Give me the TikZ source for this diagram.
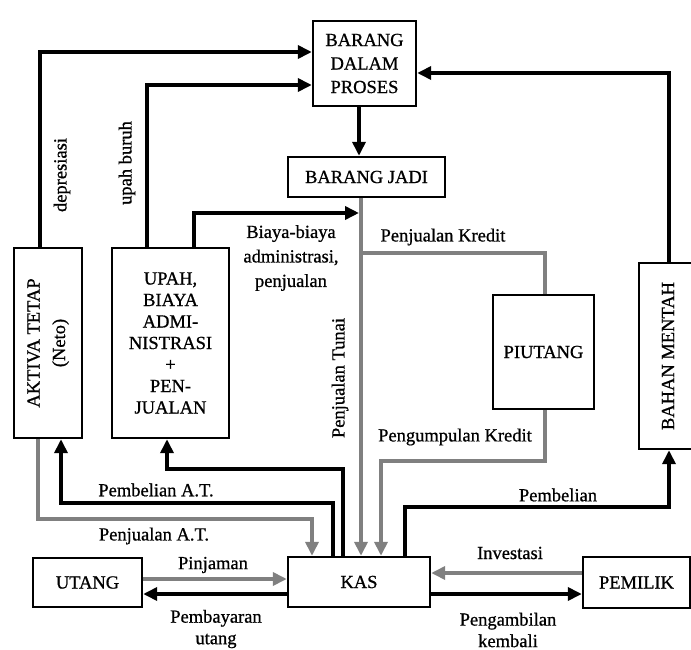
\documentclass[tikz,border=0pt]{standalone}
\usepackage{fontspec}
\setmainfont[FakeBold=0.8]{Liberation Serif}
\usepackage{graphicx}
\usetikzlibrary{arrows.meta}
\definecolor{lgr}{gray}{0.5}
\newcommand\dfont{\fontsize{18.5}{21.5}\selectfont}
\newcommand\bfontb{\fontsize{18.5}{23.5}\selectfont}
\begin{document}
\begin{tikzpicture}[x=1pt,y=-1pt,
  box/.style={draw, line width=2.4pt, inner sep=0pt, align=center, font=\dfont},
  lbl/.style={inner sep=0pt, align=center, font=\dfont},
  blk/.style={line width=3.8pt, draw=black},
  gry/.style={line width=3.8pt, draw=lgr},
  tip/.style={-{Triangle[length=14pt,width=13pt]}}]
\useasboundingbox (0,0) rectangle (691,650);
\fill[white] (0,0) rectangle (691,650);

% boxes
\node[box, font=\bfontb, minimum width=103pt, minimum height=85pt] (bdp) at (364.5,63.5) {BARANG\\DALAM\\PROSES};
\node[box, minimum width=157pt, minimum height=40pt] (bj) at (366.5,177) {BARANG JADI};
\node[box, minimum width=68pt, minimum height=190pt] (at) at (48,343)
  {\rotatebox{90}{\begin{tabular}{@{}c@{}}AKTIVA TETAP\\[4pt](Neto)\end{tabular}}};
\node[box, minimum width=117pt, minimum height=190pt] (upah) at (170.5,343)
  {UPAH,\\BIAYA\\ADMI-\\NISTRASI\\+\\PEN-\\JUALAN};
\node[box, minimum width=101pt, minimum height=114pt] (piu) at (543.5,352) {PIUTANG};
\node[box, minimum width=58pt, minimum height=186pt] (bm) at (668,356) {\rotatebox{90}{BAHAN MENTAH}};
\node[box, minimum width=142pt, minimum height=50pt] (kas) at (359,582) {KAS};
\node[box, minimum width=109pt, minimum height=49pt] (utang) at (87.5,582.5) {UTANG};
\node[box, minimum width=107pt, minimum height=51pt] (pem) at (636.5,582.5) {PEMILIK};

% bend points
\coordinate (dep) at (40,52);
\coordinate (ub) at (147,85);
\coordinate (by) at (194,213);
\coordinate (pt) at (361,213);
\coordinate (bx) at (359,0);
\coordinate (bmc) at (669,73);
\coordinate (pk) at (545,253);
\coordinate (pg1) at (545,461);
\coordinate (pg2) at (381,461);
\coordinate (pb1) at (405,507);
\coordinate (pb2) at (669,507);
\coordinate (pu1) at (343,469);
\coordinate (pu2) at (167,469);
\coordinate (pa1) at (333,503);
\coordinate (pa2) at (61,503);
\coordinate (ja1) at (38,519);
\coordinate (ja2) at (312,519);
\coordinate (pj) at (0,579);
\coordinate (pbu) at (0,594);
\coordinate (inv) at (0,573);

% connectors
\draw[blk,tip] (at.north -| dep) -- (dep) -- (bdp.west |- dep);
\draw[blk,tip] (upah.north -| ub) -- (ub) -- (bdp.west |- ub);
\draw[blk,tip] (upah.north -| by) -- (by) -- ([xshift=-2pt]pt);
\draw[blk,tip] (bdp.south -| bx) -- (bj.north -| bx);
\draw[blk,tip] (bm.north -| bmc) -- (bmc) -- (bdp.east |- bmc);
\draw[gry,tip] (bj.south -| pt) -- (kas.north -| pt);
\draw[gry] (pt |- pk) -- (pk) -- (piu.north -| pk);
\draw[gry,tip] (piu.south -| pk) -- (pg1) -- (pg2) -- (kas.north -| pg2);
\draw[blk,tip] (kas.north -| pb1) -- (pb1) -- (pb2) -- (bm.south -| pb2);
\draw[blk,tip] (kas.north -| pu1) -- (pu1) -- (pu2) -- (upah.south -| pu2);
\draw[blk,tip] (kas.north -| pa1) -- (pa1) -- (pa2) -- (at.south -| pa2);
\draw[gry,tip] (at.south -| ja1) -- (ja1) -- (ja2) -- (kas.north -| ja2);
\draw[gry,tip] (utang.east |- pj) -- (kas.west |- pj);
\draw[blk,tip] (kas.west |- pbu) -- (utang.east |- pbu);
\draw[gry,tip] (pem.west |- inv) -- (kas.east |- inv);
\draw[blk,tip] (kas.east |- pbu) -- (pem.west |- pbu);

% labels
\node[lbl, rotate=90] (ldep) at (62,175) {depresiasi};
\node[lbl, rotate=90] (lub) at (127,163) {upah buruh};
\node[lbl, font=\fontsize{18.5}{24.5}\selectfont] (lby) at (291,258) {Biaya-biaya\\administrasi,\\penjualan};
\node[lbl, rotate=90] (lpt) at (340,378) {Penjualan Tunai};
\node[lbl] (lpk) at (443,237) {Penjualan Kredit};
\node[lbl] (lpg) at (455,437) {Pengumpulan Kredit};
\node[lbl] (lpb) at (558,495) {Pembelian};
\node[lbl] (linv) at (510,553) {Investasi};
\node[lbl] (lpk2) at (508,630) {Pengambilan\\kembali};
\node[lbl] (lpj) at (213,565) {Pinjaman};
\node[lbl] (lpbu) at (216,629) {Pembayaran\\utang};
\node[lbl] (lpat) at (156,490) {Pembelian A.T.};
\node[lbl] (ljat) at (154,536) {Penjualan A.T.};
\end{tikzpicture}
\end{document}
